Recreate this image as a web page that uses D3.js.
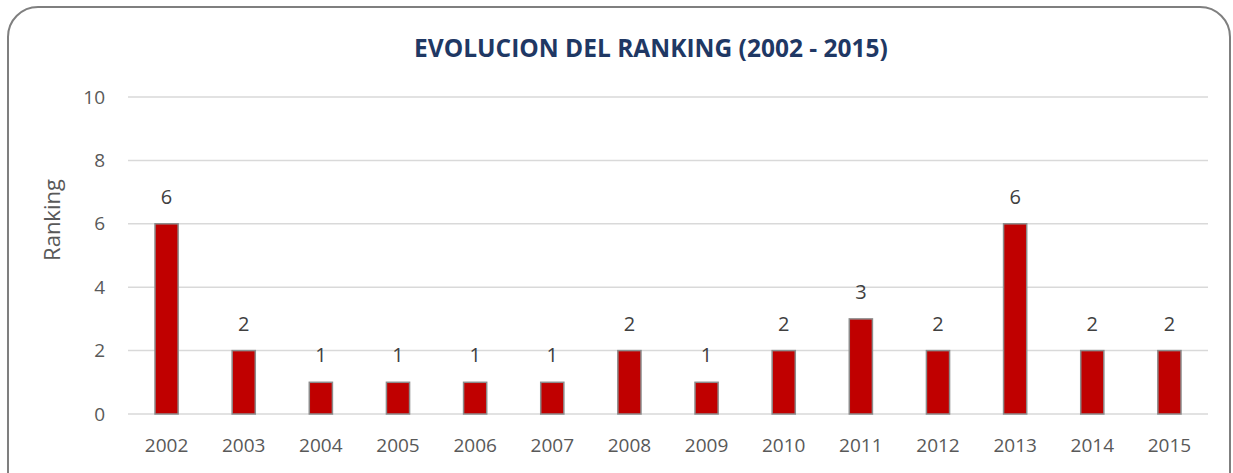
<!DOCTYPE html>
<html>
<head>
<meta charset="utf-8">
<script src="https://cdn.jsdelivr.net/npm/d3@7"></script>
<style>
  body { margin: 0; background: #fff; }
  text { font-family: "Open Sans", "DejaVu Sans", sans-serif; }
</style>
</head>
<body>
<div id="chart"></div>
<script>
// chart data
const years = ['2002','2003','2004','2005','2006','2007','2008','2009','2010','2011','2012','2013','2014','2015'];
const ranking = [6, 2, 1, 1, 1, 1, 2, 1, 2, 3, 2, 6, 2, 2];
const yTicks = [0, 2, 4, 6, 8, 10];

const W = 1233, H = 473;
const margin = {top: 97, right: 25, bottom: 59, left: 128};
const width = W - margin.left - margin.right,
      height = H - margin.top - margin.bottom;

const svg = d3.select('#chart').append('svg')
    .attr('width', W)
    .attr('height', H);

// rounded frame (bottom runs off the picture)
svg.append('rect')
    .attr('x', 8).attr('y', 7)
    .attr('width', 1222).attr('height', 500)
    .attr('rx', 30).attr('ry', 30)
    .attr('fill', '#fff')
    .attr('stroke', '#7f7f7f')
    .attr('stroke-width', 2);

svg.append('text')
    .attr('x', 651).attr('y', 57)
    .attr('text-anchor', 'middle')
    .attr('font-size', 24.5)
    .attr('font-weight', 'bold')
    .attr('fill', '#1f3864')
    .text('EVOLUCION DEL RANKING (2002 - 2015)');

const g = svg.append('g')
    .attr('transform', 'translate(' + margin.left + ',' + margin.top + ')');

let x = d3.scaleBand().domain(years).range([0, width]).paddingInner(0.7).paddingOuter(0.35);
let y = d3.scaleLinear().domain([0, 10]).range([height, 0]);

// gridlines
g.selectAll('.grid').data(yTicks).enter().append('line')
    .attr('x1', 0).attr('x2', width)
    .attr('y1', d => y(d)).attr('y2', d => y(d))
    .attr('stroke', '#d9d9d9')
    .attr('stroke-width', 1.5);

// y axis labels
let yAxis = g.append('g')
    .call(d3.axisLeft(y).tickValues(yTicks).tickSize(0).tickPadding(23));
yAxis.select('.domain').remove();
yAxis.selectAll('text').attr('font-size', 19).attr('fill', '#595959')
    .style('font-family', '"Open Sans", sans-serif');

// x axis labels
let xAxis = g.append('g')
    .attr('transform', 'translate(0,' + height + ')')
    .call(d3.axisBottom(x).tickSize(0).tickPadding(25));
xAxis.select('.domain').remove();
xAxis.selectAll('text').attr('font-size', 19).attr('fill', '#595959')
    .style('font-family', '"Open Sans", sans-serif');

// bars
g.selectAll('.bar').data(ranking).enter().append('rect')
    .attr('x', (d, i) => x(years[i]))
    .attr('y', d => y(d))
    .attr('width', x.bandwidth())
    .attr('height', d => height - y(d))
    .attr('fill', '#c00000')
    .attr('stroke', '#8c8c8c')
    .attr('stroke-width', 1.5);

// value labels
g.selectAll('.lbl').data(ranking).enter().append('text')
    .attr('x', (d, i) => x(years[i]) + x.bandwidth() / 2)
    .attr('y', d => y(d) - 20)
    .attr('text-anchor', 'middle')
    .attr('font-size', 20)
    .attr('fill', '#404040')
    .text(d => d);

// y axis title
svg.append('text')
    .attr('transform', 'translate(60,220) rotate(-90)')
    .attr('text-anchor', 'middle')
    .attr('font-size', 22)
    .attr('fill', '#595959')
    .text('Ranking');
</script>
</body>
</html>
